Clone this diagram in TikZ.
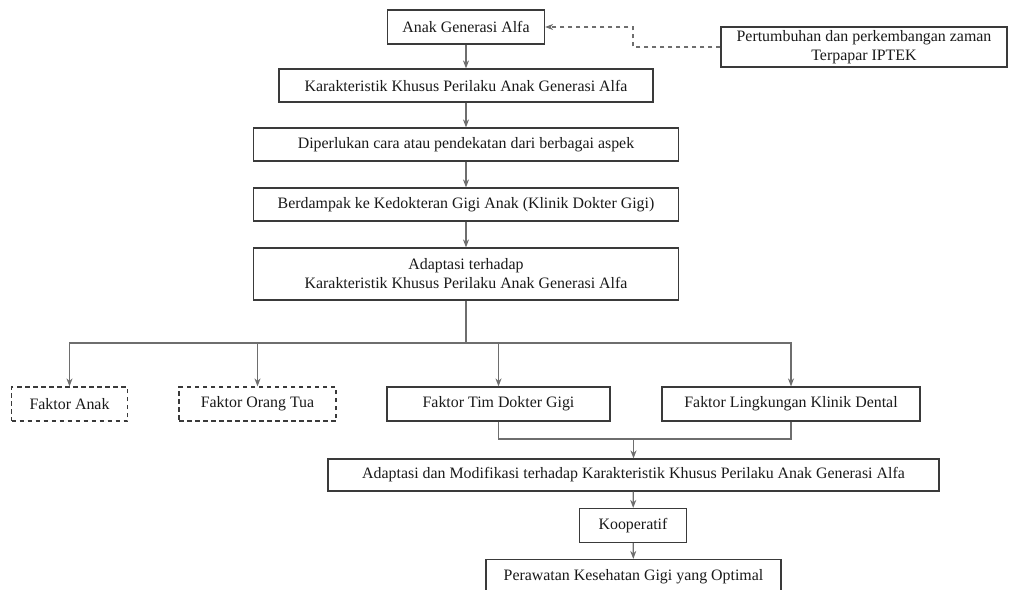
\documentclass[tikz,border=0pt]{standalone}
\usepackage{fontspec}
\setmainfont{Liberation Serif}
\usetikzlibrary{arrows.meta}
\definecolor{boxc}{HTML}{3A3A3A}
\definecolor{linec}{HTML}{6E6E6E}
\definecolor{txtc}{HTML}{1A1A1A}
\begin{document}
\begin{tikzpicture}[x=1pt,y=-1pt,
  box/.style={draw=boxc,line width=1.2pt,inner sep=0pt,align=center,text=txtc,font=\fontsize{15.9}{19}\selectfont},
  dbox/.style={box,dash pattern=on 4.5pt off 3.5pt},
  conn/.style={draw=linec,line width=1.2pt},
  arr/.style={conn,-{Stealth[length=8pt,width=6pt,inset=2.5pt]}},
  darr/.style={arr,dash pattern=on 4.5pt off 3.5pt}]
\useasboundingbox (0,0) rectangle (1012,589);
\fill[white] (0,0) rectangle (1012,589);
% boxes
\node[box,minimum width=157pt,minimum height=34pt] (A) at (466,27) {Anak Generasi Alfa};
\node[box,minimum width=374pt,minimum height=33pt] (B) at (466,85.5) {Karakteristik Khusus Perilaku Anak Generasi Alfa};
\node[box,minimum width=425pt,minimum height=33pt] (C) at (466,144.5) {Diperlukan cara atau pendekatan dari berbagai aspek};
\node[box,minimum width=425pt,minimum height=33pt] (D) at (466,204.5) {Berdampak ke Kedokteran Gigi Anak (Klinik Dokter Gigi)};
\node[box,minimum width=425pt,minimum height=52pt] (E) at (466,274) {Adaptasi terhadap\\Karakteristik Khusus Perilaku Anak Generasi Alfa};
\node[box,minimum width=286pt,minimum height=40pt] (P) at (864,47) {Pertumbuhan dan perkembangan zaman\\Terpapar IPTEK};
\node[dbox,minimum width=116pt,minimum height=34pt] (F1) at (69.5,404) {Faktor Anak};
\node[dbox,minimum width=157pt,minimum height=34pt] (F2) at (257.5,404) {Faktor Orang Tua};
\node[box,minimum width=223pt,minimum height=34pt] (F3) at (498.5,404) {Faktor Tim Dokter Gigi};
\node[box,minimum width=258pt,minimum height=34pt] (F4) at (791,404) {Faktor Lingkungan Klinik Dental};
\node[box,minimum width=611pt,minimum height=32pt] (G) at (633.5,475) {Adaptasi dan Modifikasi terhadap Karakteristik Khusus Perilaku Anak Generasi Alfa};
\node[box,minimum width=107pt,minimum height=34pt] (H) at (633,525.5) {Kooperatif};
\node[box,minimum width=295pt,minimum height=34pt] (I) at (633.5,576.5) {Perawatan Kesehatan Gigi yang Optimal};
% connectors
\draw[arr] (A) -- (B);
\draw[arr] (B) -- (C);
\draw[arr] (C) -- (D);
\draw[arr] (D) -- (E);
\coordinate (j) at (466,343);
\draw[conn] (E.south) -- (j);
\draw[arr] (j) -| (F1.north);
\draw[arr] (j) -| (F2.north);
\draw[arr] (j) -| (F3.north);
\draw[arr] (j) -| (F4.north);
\coordinate (k) at (633.5,439);
\draw[conn] (F3.south) |- (k);
\draw[conn] (F4.south) |- (k);
\draw[arr] (k) -- (G.north);
\draw[arr] (G) -- (H);
\draw[arr] (H) -- (I);
\coordinate (m) at (633,47);
\draw[darr] (P.west) -- (m) |- (A.east);
\end{tikzpicture}
\end{document}
